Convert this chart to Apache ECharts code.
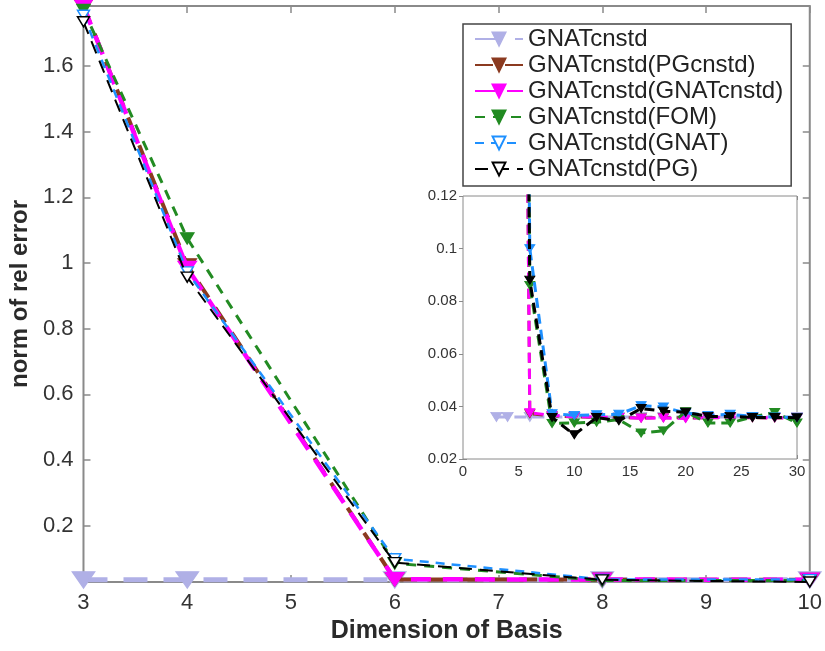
<!DOCTYPE html>
<html>
<head>
<meta charset="utf-8">
<script src="https://cdn.jsdelivr.net/npm/echarts@6/dist/echarts.min.js"></script>
<style>html,body{margin:0;padding:0;background:#fff;}#c{width:825px;height:651px;}</style>
</head>
<body>
<div id="c"></div>
<script>
// ---- data ----
const dims = [3, 4, 6, 8, 10, 12, 14, 16, 18, 20, 22, 24, 26, 28, 30];
const seriesNames = ['GNATcnstd', 'GNATcnstd(PGcnstd)', 'GNATcnstd(GNATcnstd)', 'GNATcnstd(FOM)', 'GNATcnstd(GNAT)', 'GNATcnstd(PG)'];
const vGNATcnstd = [0.036, 0.036, 0.036, 0.036, 0.036, 0.036, 0.036, 0.036, 0.036, 0.036, 0.036, 0.036, 0.036, 0.036, 0.036];
const vPGcnstd = [1.782, 0.993, 0.0372, 0.0364, 0.0360, 0.0358, 0.0357, 0.0356, 0.0357, 0.0356, 0.0357, 0.0357, 0.0357, 0.0356, 0.0356];
const vGNATcnstdSelf = [1.782, 0.985, 0.0376, 0.0366, 0.0361, 0.0359, 0.0358, 0.0355, 0.0356, 0.0354, 0.0358, 0.0357, 0.0358, 0.0357, 0.0356];
const vFOM = [1.770, 1.075, 0.086, 0.0335, 0.0337, 0.0340, 0.0350, 0.0299, 0.0307, 0.0380, 0.0337, 0.0337, 0.0360, 0.0377, 0.0337];
const vGNAT = [1.754, 0.973, 0.100, 0.0372, 0.0366, 0.0368, 0.0370, 0.0403, 0.0398, 0.0375, 0.0366, 0.0370, 0.0362, 0.0360, 0.0357];
const vPG = [1.734, 0.957, 0.088, 0.0358, 0.0292, 0.0358, 0.0345, 0.0392, 0.0382, 0.0378, 0.0362, 0.0362, 0.0358, 0.0358, 0.0357];
const mainYTicks = [0.2, 0.4, 0.6, 0.8, 1, 1.2, 1.4, 1.6];
const mainXRange = [3, 10];
const mainYRange = [0.0292, 1.782];
const insetXRange = [0, 30];
const insetYRange = [0.02, 0.12];

// ---- styling ----
const FONT = '"Liberation Sans", Arial, sans-serif';
const AXC = '#8a8a8a';
const TXT = '#333';
const values = [vGNATcnstd, vPGcnstd, vGNATcnstdSelf, vFOM, vGNAT, vPG];
const styles = [
  {color: '#b0b0e6', fill: '#b0b0e6', w: 5, dash: [24, 16], size: [22, 16], insetSize: [11, 9], insetW: 3, insetDash: [12, 6]},
  {color: '#8b3a20', fill: '#8b3a20', w: 4, dash: [18, 12], size: [18, 13], insetSize: [10, 8], insetW: 3, insetDash: [10, 6]},
  {color: '#ff00ff', fill: '#ff00ff', w: 4.5, dash: [20, 12], size: [18, 13], insetSize: [10, 8], insetW: 3, insetDash: [10, 6]},
  {color: '#228b22', fill: '#228b22', w: 3, dash: [10, 8], size: [13, 11], insetSize: [10, 8], insetW: 3, insetDash: [10, 6]},
  {color: '#1e90ff', fill: '#ffffff', w: 2.5, dash: [9, 7], size: [12, 10], insetSize: [10, 8], insetW: 3, insetDash: [10, 6]},
  {color: '#000000', fill: '#ffffff', w: 2, dash: [13, 8], size: [12, 10], insetSize: [10, 8], insetW: 3, insetDash: [10, 6]}
];
const insetFill = ['#b0b0e6', '#8b3a20', '#ff00ff', '#228b22', '#1e90ff', '#000000'];

const mainSeries = seriesNames.map((name, i) => ({
  name, type: 'line', xAxisIndex: 0, yAxisIndex: 0,
  data: dims.map((d, k) => [d, values[i][k]]).filter(p => p[0] <= mainXRange[1]),
  clip: false, symbol: 'triangle', symbolRotate: 180, symbolSize: styles[i].size,
  lineStyle: {color: styles[i].color, width: styles[i].w, type: styles[i].dash},
  itemStyle: {color: styles[i].fill, borderColor: styles[i].color, borderWidth: 1.5},
  animation: false, z: 3 + i
}));
const insetSeries = seriesNames.map((name, i) => ({
  name, type: 'line', xAxisIndex: 2, yAxisIndex: 2,
  data: dims.map((d, k) => [d, values[i][k]]),
  clip: true, symbol: 'triangle', symbolRotate: 180, symbolSize: styles[i].insetSize,
  lineStyle: {color: styles[i].color, width: styles[i].insetW, type: styles[i].insetDash},
  itemStyle: {color: insetFill[i], borderColor: styles[i].color, borderWidth: 1},
  animation: false, z: 20 + i
}));

const chart = echarts.init(document.getElementById('c'), null, {renderer: 'canvas'});
chart.setOption({
  backgroundColor: '#fff',
  animation: false,
  textStyle: {fontFamily: FONT},
  grid: [
    {left: 83, right: 14, top: 6, bottom: 69, show: true, borderColor: AXC, borderWidth: 2, backgroundColor: '#fff', z: 0},
    {left: 463, right: 28, top: 196, bottom: 192, show: true, borderColor: AXC, borderWidth: 1, backgroundColor: '#fff', z: 10}
  ],
  legend: {
    data: seriesNames, orient: 'vertical', left: 463, top: 24,
    itemWidth: 48, itemHeight: 16, itemGap: 2,
    padding: [3, 8, 5, 11], borderColor: '#444', borderWidth: 1.5, backgroundColor: '#fff',
    textStyle: {fontFamily: FONT, fontSize: 24, color: '#222', lineHeight: 22},
    z: 30
  },
  xAxis: [
    {type: 'value', gridIndex: 0, position: 'bottom', min: mainXRange[0], max: mainXRange[1], interval: 1,
     name: 'Dimension of Basis', nameLocation: 'middle', nameGap: 37,
     nameTextStyle: {fontFamily: FONT, fontSize: 25, fontWeight: 'bold', color: '#2a2a2a'},
     axisLine: {show: false}, splitLine: {show: false},
     axisTick: {inside: true, length: 7, lineStyle: {color: AXC, width: 1.5}},
     axisLabel: {fontFamily: FONT, fontSize: 22, color: TXT, margin: 10}},
    {type: 'value', gridIndex: 0, position: 'top', min: mainXRange[0], max: mainXRange[1], interval: 1,
     axisLine: {show: false}, splitLine: {show: false}, axisLabel: {show: false},
     axisTick: {inside: true, length: 7, lineStyle: {color: AXC, width: 1.5}}},
    {type: 'value', gridIndex: 1, position: 'bottom', min: insetXRange[0], max: insetXRange[1], interval: 5,
     axisLine: {show: false}, splitLine: {show: false},
     axisTick: {inside: true, length: 4, lineStyle: {color: AXC}},
     axisLabel: {fontFamily: FONT, fontSize: 15, color: TXT, margin: 5}},
    {type: 'value', gridIndex: 1, position: 'top', min: insetXRange[0], max: insetXRange[1], interval: 5,
     axisLine: {show: false}, splitLine: {show: false}, axisLabel: {show: false},
     axisTick: {inside: true, length: 4, lineStyle: {color: AXC}}}
  ],
  yAxis: [
    {type: 'value', gridIndex: 0, position: 'left', min: mainYRange[0], max: mainYRange[1],
     name: 'norm of rel error', nameLocation: 'middle', nameGap: 49,
     nameTextStyle: {fontFamily: FONT, fontSize: 24, fontWeight: 'bold', color: '#2a2a2a'},
     axisLine: {show: false}, splitLine: {show: false},
     axisTick: {inside: true, length: 7, customValues: mainYTicks, lineStyle: {color: AXC, width: 1.5}},
     axisLabel: {fontFamily: FONT, fontSize: 22, color: TXT, margin: 10, customValues: mainYTicks}},
    {type: 'value', gridIndex: 0, position: 'right', min: mainYRange[0], max: mainYRange[1],
     axisLine: {show: false}, splitLine: {show: false}, axisLabel: {show: false, customValues: mainYTicks},
     axisTick: {inside: true, length: 7, customValues: mainYTicks, lineStyle: {color: AXC, width: 1.5}}},
    {type: 'value', gridIndex: 1, position: 'left', min: insetYRange[0], max: insetYRange[1], interval: 0.02,
     axisLine: {show: false}, splitLine: {show: false},
     axisTick: {inside: true, length: 4, lineStyle: {color: AXC}},
     axisLabel: {fontFamily: FONT, fontSize: 15, color: TXT, margin: 6, formatter: v => String(parseFloat(v.toFixed(3)))}},
    {type: 'value', gridIndex: 1, position: 'right', min: insetYRange[0], max: insetYRange[1], interval: 0.02,
     axisLine: {show: false}, splitLine: {show: false}, axisLabel: {show: false},
     axisTick: {inside: true, length: 4, lineStyle: {color: AXC}}}
  ],
  series: mainSeries.concat(insetSeries)
});
</script>
</body>
</html>
